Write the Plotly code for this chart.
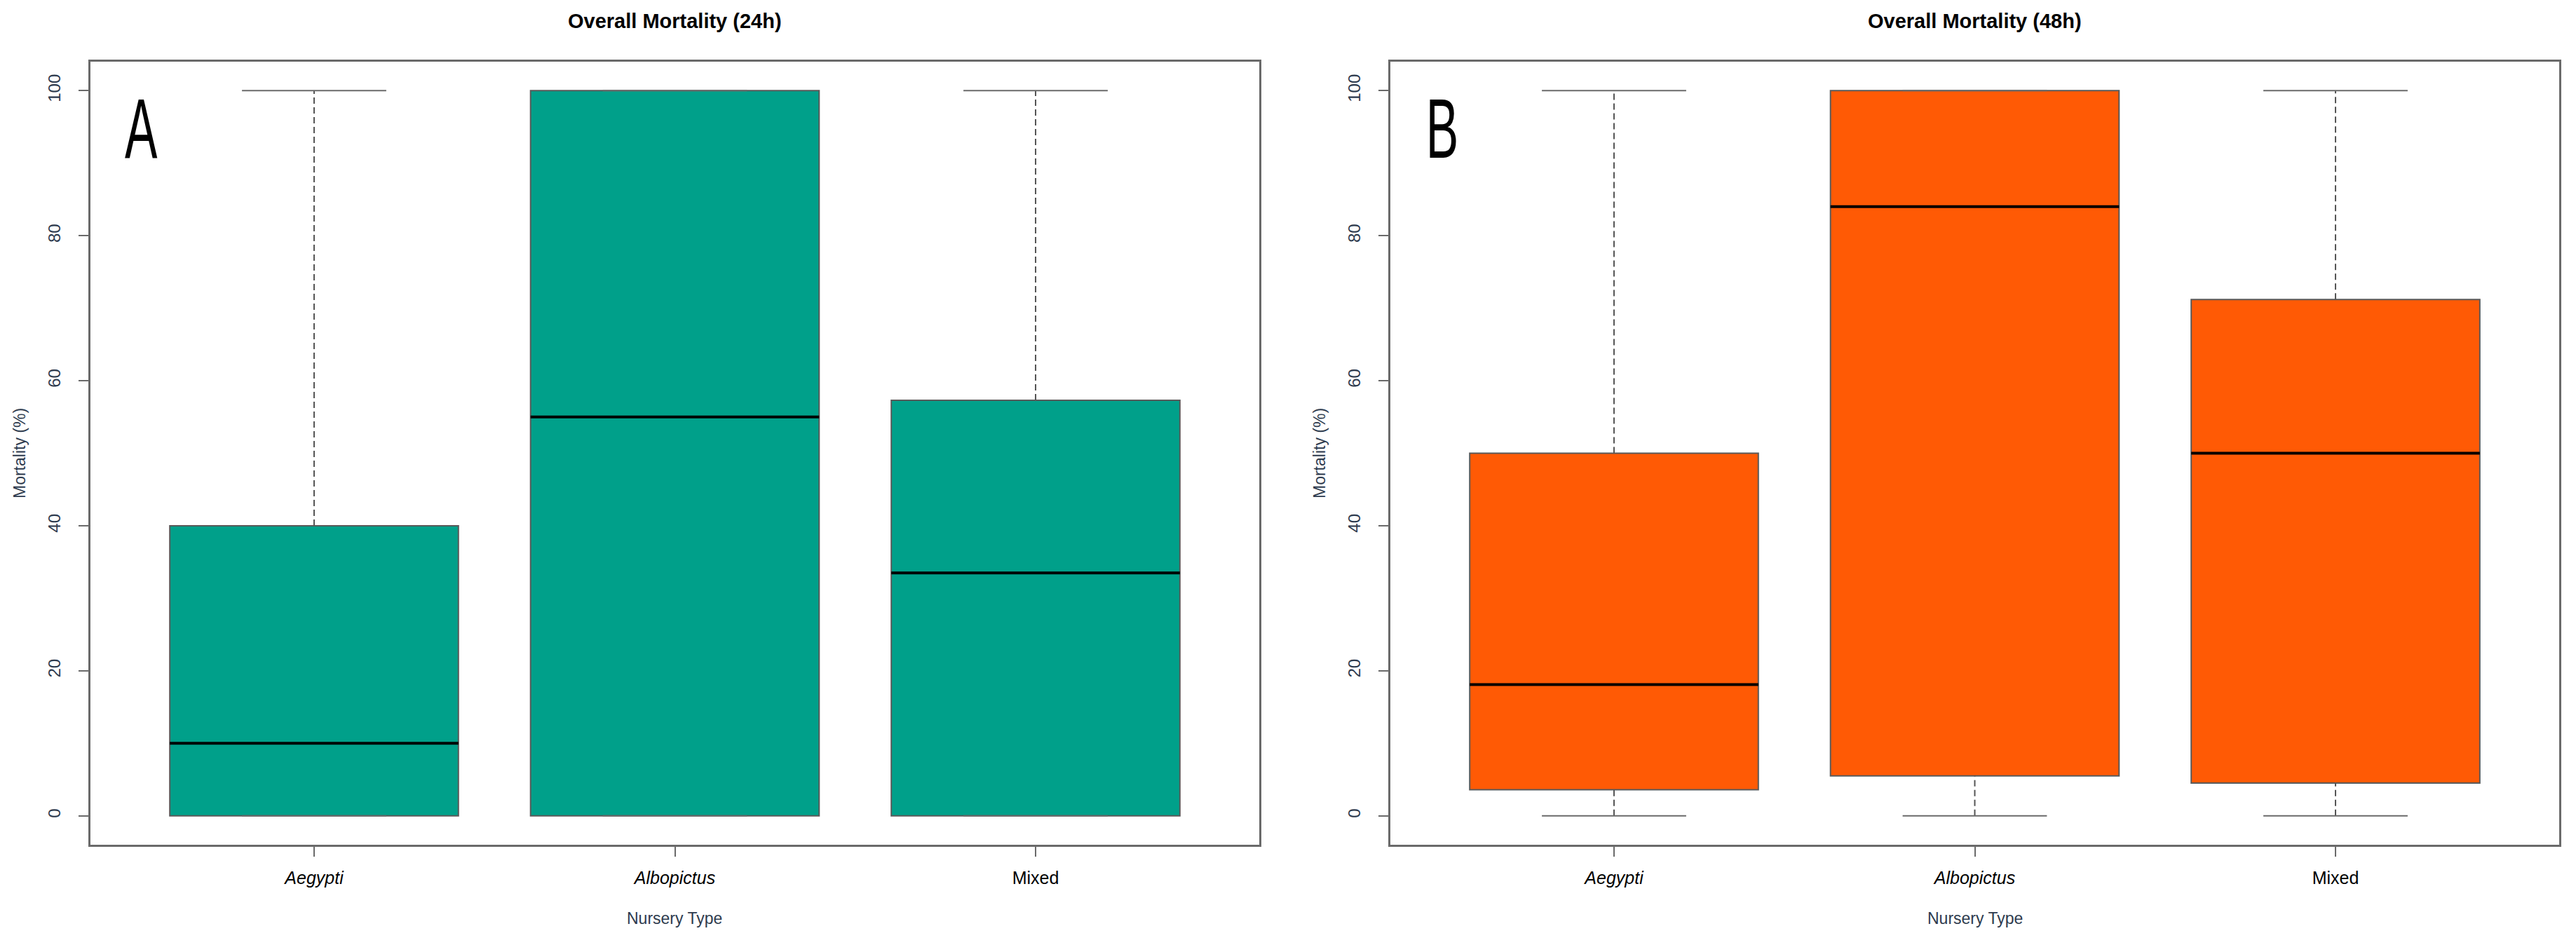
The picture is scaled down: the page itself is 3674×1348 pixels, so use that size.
import plotly.graph_objects as go
from plotly.subplots import make_subplots

# nursery types on the x axis
categories = ["Aegypti", "Albopictus", "Mixed"]
tick_text = ["<i>Aegypti</i>", "<i>Albopictus</i>", "Mixed"]
positions = [1, 2, 3]

# mortality (%) after 24h: five-number summaries
mort24_min = [0, 0, 0]
mort24_q1 = [0, 0, 0]
mort24_med = [10, 55, 33.5]
mort24_q3 = [40, 100, 57.3]
mort24_max = [100, 100, 100]

# mortality (%) after 48h
mort48_min = [0, 0, 0]
mort48_q1 = [3.6, 5.5, 4.5]
mort48_med = [18.1, 84, 50]
mort48_q3 = [50, 100, 71.2]
mort48_max = [100, 100, 100]

y_ticks = [0, 20, 40, 60, 80, 100]

TEAL = "#00A08A"
ORANGE = "#FF5A05"
GREY = "#6a6a6a"
AXIS_TXT = "#2e3b4e"
BOX_W = 0.8
CAP_W = 0.4

fig = make_subplots(rows=1, cols=2, horizontal_spacing=0.05)


def add_boxes(col, q_min, q1, med, q3, q_max, color):
    # dashed whiskers (drawn under the boxes, like R's bxp)
    wx, wy = [], []
    for p, lo, a, b, hi in zip(positions, q_min, q1, q3, q_max):
        wx += [p, p, None, p, p, None]
        wy += [b, hi, None, lo, a, None]
    fig.add_trace(go.Scatter(x=wx, y=wy, mode="lines", hoverinfo="skip",
                             line=dict(color="#555555", width=2, dash="9px,5px")),
                  row=1, col=col)
    # staples
    cx, cy = [], []
    for p, lo, hi in zip(positions, q_min, q_max):
        cx += [p - CAP_W / 2, p + CAP_W / 2, None, p - CAP_W / 2, p + CAP_W / 2, None]
        cy += [hi, hi, None, lo, lo, None]
    fig.add_trace(go.Scatter(x=cx, y=cy, mode="lines", hoverinfo="skip",
                             line=dict(color=GREY, width=2)),
                  row=1, col=col)
    # boxes
    fig.add_trace(go.Bar(x=positions, y=[b - a for a, b in zip(q1, q3)], base=q1,
                         width=BOX_W, marker=dict(color=color, line=dict(color="#5a5a5a", width=2)),
                         hovertext=categories, hoverinfo="text"),
                  row=1, col=col)
    # medians
    mx, my = [], []
    for p, m in zip(positions, med):
        mx += [p - BOX_W / 2, p + BOX_W / 2, None]
        my += [m, m, None]
    fig.add_trace(go.Scatter(x=mx, y=my, mode="lines", hoverinfo="skip",
                             line=dict(color="black", width=4)),
                  row=1, col=col)


add_boxes(1, mort24_min, mort24_q1, mort24_med, mort24_q3, mort24_max, TEAL)
add_boxes(2, mort48_min, mort48_q1, mort48_med, mort48_q3, mort48_max, ORANGE)

axis_common = dict(showline=True, mirror=True, linecolor=GREY, linewidth=3,
                   showgrid=False, zeroline=False, ticks="outside", ticklen=14,
                   tickwidth=2, tickcolor=GREY)

fig.update_xaxes(range=[0.38, 3.62], tickvals=positions, ticktext=tick_text,
                 tickfont=dict(family="Liberation Sans, Arial", size=25, color="black"),
                 ticklabelstandoff=9, **axis_common)
fig.update_yaxes(range=[-4, 104], tickvals=y_ticks, tickangle=-90,
                 tickfont=dict(family="Liberation Sans, Arial", size=24, color=AXIS_TXT),
                 ticklabelstandoff=16, **axis_common)

fig.update_layout(
    xaxis=dict(domain=[129 / 3674, 1796 / 3674]),
    xaxis2=dict(domain=[1983 / 3674, 3650 / 3674]),
    yaxis=dict(domain=[1 - 1205 / 1348, 1 - 88 / 1348]),
    yaxis2=dict(domain=[1 - 1205 / 1348, 1 - 88 / 1348]),
    width=3674, height=1348,
    margin=dict(l=0, r=0, t=0, b=0),
    paper_bgcolor="white", plot_bgcolor="white",
    showlegend=False, barmode="overlay",
    font=dict(family="Liberation Sans, Arial"),
)

# panel titles, axis titles and panel letters
panels = [
    ("Overall Mortality (24h)", "A", (129 + 1796) / 2 / 3674, 201 / 3674),
    ("Overall Mortality (48h)", "B", (1983 + 3650) / 2 / 3674, 2057 / 3674),
]
for title, letter, xc, xl in panels:
    fig.add_annotation(text="<b>" + title + "</b>", x=xc, y=1 - 30 / 1348,
                       xref="paper", yref="paper", showarrow=False,
                       xanchor="center", yanchor="middle",
                       font=dict(size=29, color="black"))
    fig.add_annotation(text="Nursery Type", x=xc, y=1 - 1310 / 1348,
                       xref="paper", yref="paper", showarrow=False,
                       xanchor="center", yanchor="middle",
                       font=dict(size=23, color=AXIS_TXT))
    fig.add_annotation(text=letter, x=xl, y=1 - 183 / 1348,
                       xref="paper", yref="paper", showarrow=False,
                       xanchor="center", yanchor="middle",
                       font=dict(family="Liberation Sans", size=120, color="black"))

for x_px in (28, 28 + 1854):
    fig.add_annotation(text="Mortality (%)", x=x_px / 3674, y=1 - 647 / 1348,
                       xref="paper", yref="paper", showarrow=False, textangle=-90,
                       xanchor="center", yanchor="middle",
                       font=dict(size=23, color=AXIS_TXT))

# no page margin; the panel letters use a narrow, condensed look
post = """
document.body.style.margin = '0';
var gd = document.getElementById('{plot_id}');
function squeeze() {
  document.querySelectorAll('.annotation-text').forEach(function (t) {
    if (t.textContent === 'A' || t.textContent === 'B') {
      t.style.transformBox = 'fill-box';
      t.style.transformOrigin = 'center';
      t.style.transform = 'scaleX(0.58)';
    }
  });
}
squeeze();
gd.on('plotly_afterplot', squeeze);
"""

fig.write_html("out.html", post_script=post, config={"displayModeBar": False})
